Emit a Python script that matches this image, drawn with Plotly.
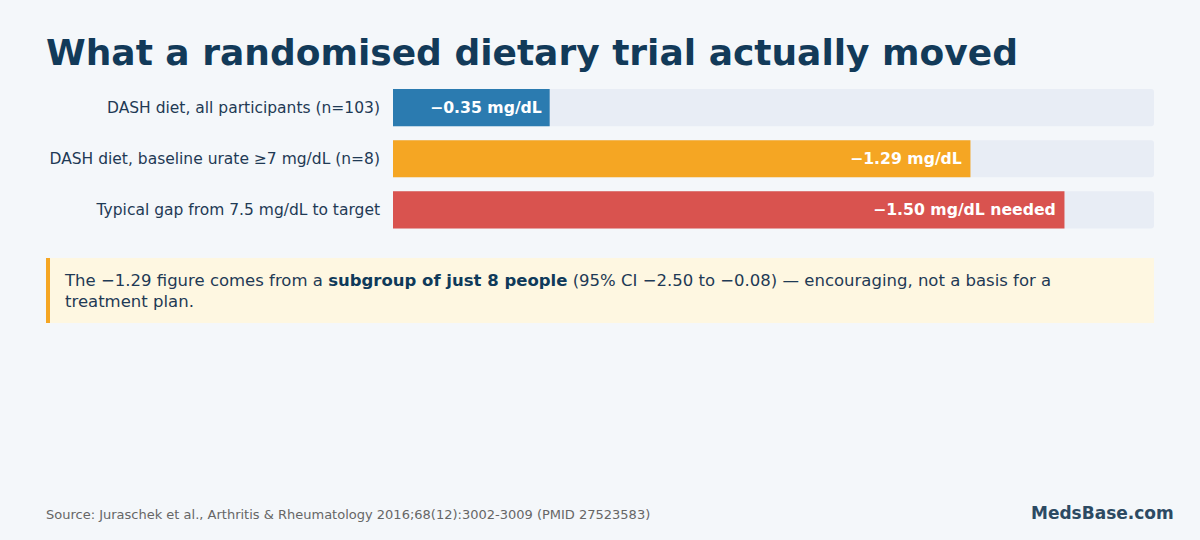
import plotly.graph_objects as go

W, H = 1200, 540

categories = [
    "DASH diet, all participants (n=103)",
    "DASH diet, baseline urate ≥7 mg/dL (n=8)",
    "Typical gap from 7.5 mg/dL to target",
]
reductions = [0.35, 1.29, 1.50]
bar_labels = ["−0.35 mg/dL", "−1.29 mg/dL", "−1.50 mg/dL needed"]
bar_colors = ["#2b7bb0", "#f5a623", "#d9534f"]
scale_max = 1.70

title = "What a randomised dietary trial actually moved"
callout = ("The −1.29 figure comes from a <b style='color:#0f3a5a'>subgroup of just 8 people</b> "
           "(95% CI −2.50 to −0.08) — encouraging, not a basis for a<br>treatment plan.")
source = "Source: Juraschek et al., Arthritis & Rheumatology 2016;68(12):3002-3009 (PMID 27523583)"
brand = "MedsBase.com"

def px(x):
    return x / W

def py(y):
    return 1 - y / H

fig = go.Figure()
fig.add_trace(go.Bar(
    y=categories, x=[scale_max] * len(categories), orientation="h",
    marker=dict(color="#e8edf5", cornerradius=3, line=dict(width=0)),
    hoverinfo="skip", showlegend=False,
))
fig.add_trace(go.Bar(
    y=categories, x=reductions, orientation="h",
    marker=dict(color=bar_colors, cornerradius=3, line=dict(width=0)),
    showlegend=False,
))

for cat, val, lab in zip(categories, reductions, bar_labels):
    fig.add_annotation(
        x=val, y=cat, xref="x", yref="y", text=f"<b>{lab}</b>",
        xanchor="right", yanchor="middle", xshift=-6, showarrow=False,
        font=dict(family="DejaVu Sans", size=15.7, color="white"),
    )

# title
fig.add_annotation(
    x=px(44), y=py(53), xref="paper", yref="paper", text=f"<b>{title}</b>",
    xanchor="left", yanchor="middle", showarrow=False,
    font=dict(family="DejaVu Sans", size=36, color="#123a59"),
)

# callout box
fig.add_shape(type="rect", xref="paper", yref="paper",
              x0=px(46), x1=px(1154), y0=py(323), y1=py(258),
              fillcolor="#fef7e1", line=dict(width=0), layer="below")
fig.add_shape(type="rect", xref="paper", yref="paper",
              x0=px(46), x1=px(50), y0=py(323), y1=py(258),
              fillcolor="#f5a623", line=dict(width=0), layer="below")
fig.add_annotation(
    x=px(62), y=py(290.5), xref="paper", yref="paper", text=callout,
    xanchor="left", yanchor="middle", align="left", showarrow=False,
    font=dict(family="DejaVu Sans", size=16.5, color="#1f3a55"),
)

# footer
fig.add_annotation(
    x=px(44), y=py(514), xref="paper", yref="paper", text=source,
    xanchor="left", yanchor="middle", showarrow=False,
    font=dict(family="DejaVu Sans", size=13, color="#666666"),
)
fig.add_annotation(
    x=px(1176), y=py(513), xref="paper", yref="paper", text=f"<b>{brand}</b>",
    xanchor="right", yanchor="middle", showarrow=False,
    font=dict(family="DejaVu Sans", size=17, color="#2c4a63"),
)

fig.update_layout(
    template="none",
    width=W, height=H,
    margin=dict(l=0, r=0, t=0, b=0),
    paper_bgcolor="#f4f7fa", plot_bgcolor="rgba(0,0,0,0)",
    barmode="overlay", bargap=0.275,
    showlegend=False,
    xaxis=dict(domain=[393 / W, 1154 / W], range=[0, scale_max],
               showgrid=False, zeroline=False, showticklabels=False,
               showline=False, ticks="", automargin=False, fixedrange=True),
    yaxis=dict(domain=[py(235.5), py(82)], autorange="reversed",
               showgrid=False, zeroline=False, showline=False, ticks="",
               ticklabelstandoff=12, automargin=False, fixedrange=True,
               tickfont=dict(family="DejaVu Sans", size=15.5, color="#1f3a55")),
    font=dict(family="DejaVu Sans"),
)

fig.write_html("out.html")
